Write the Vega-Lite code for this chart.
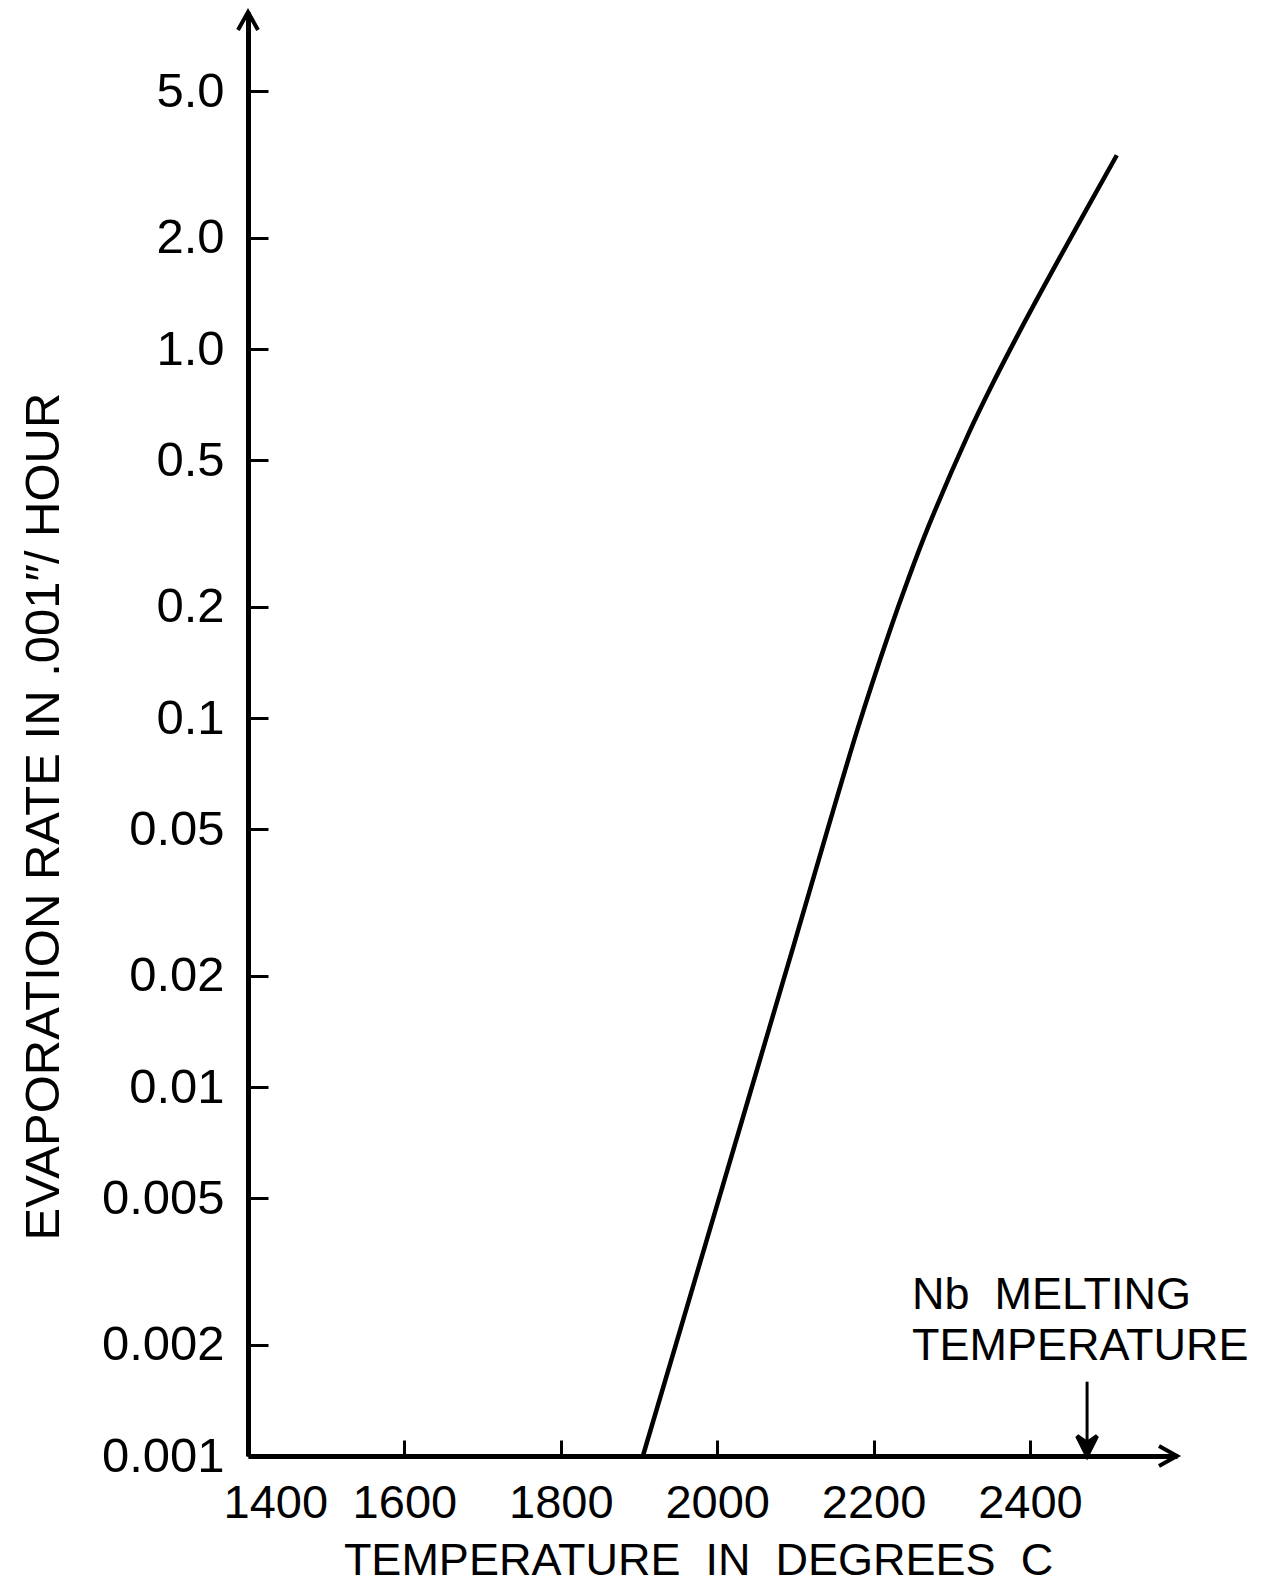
{
  "$schema": "https://vega.github.io/schema/vega-lite/v6.json",
  "width": 929,
  "height": 1444,
  "autosize": {"type": "none"},
  "padding": {"left": 248, "top": 12, "right": 93, "bottom": 129},
  "background": "white",
  "config": {"view": {"stroke": null}, "font": "Liberation Sans"},
  "datasets": {
    "curve": [
      {"T": 1905, "rate": 0.001},
      {"T": 2000, "rate": 0.0048},
      {"T": 2100, "rate": 0.0251},
      {"T": 2180, "rate": 0.094},
      {"T": 2221, "rate": 0.173},
      {"T": 2244, "rate": 0.237},
      {"T": 2270, "rate": 0.33},
      {"T": 2321, "rate": 0.587},
      {"T": 2353, "rate": 0.811},
      {"T": 2387, "rate": 1.118},
      {"T": 2438, "rate": 1.768},
      {"T": 2511, "rate": 3.35}
    ],
    "arrows": [
      {"T": 1400, "rate": 8.19, "dir": "up"},
      {"T": 2588, "rate": 0.001, "dir": "right"},
      {"T": 2473, "rate": 0.001, "dir": "down"}
    ],
    "melt": [
      {"T": 2473, "rate": 0.00159, "rate2": 0.001}
    ],
    "notes": [
      {"T": 2249, "rate": 0.0025, "label": "Nb\u00a0 MELTING"},
      {"T": 2249, "rate": 0.00182, "label": "TEMPERATURE"}
    ]
  },
  "layer": [
    {
      "data": {"name": "curve"},
      "mark": {"type": "line", "color": "black", "strokeWidth": 4.5, "interpolate": "catmull-rom"},
      "encoding": {
        "x": {
          "field": "T", "type": "quantitative",
          "scale": {"domain": [1400, 2588], "nice": false, "zero": false},
          "axis": {
            "title": "TEMPERATURE\u00a0 IN\u00a0 DEGREES\u00a0 C",
            "values": [1400, 1600, 1800, 2000, 2200, 2400],
            "format": "d",
            "grid": false,
            "labelFont": "Liberation Sans", "labelFontSize": 47, "labelColor": "black",
            "labelPadding": 40, "labelFlush": true, "labelFlushOffset": 25, "labelOverlap": false,
            "tickSize": -16, "tickWidth": 3, "tickColor": "black",
            "domainWidth": 5, "domainColor": "black",
            "titleFont": "Liberation Sans", "titleFontSize": 45, "titleFontWeight": "normal", "titleColor": "black",
            "titleX": 450, "titleY": 127, "titleAlign": "center", "titleBaseline": "bottom"
          }
        },
        "y": {
          "field": "rate", "type": "quantitative",
          "scale": {"type": "log", "domain": [0.001, 8.19], "nice": false},
          "axis": {
            "title": "EVAPORATION RATE IN .001\u2033/ HOUR",
            "values": [0.001, 0.002, 0.005, 0.01, 0.02, 0.05, 0.1, 0.2, 0.5, 1, 2, 5],
            "labelExpr": "datum.value >= 1 ? format(datum.value, '.1f') : '' + datum.value",
            "grid": false,
            "labelFont": "Liberation Sans", "labelFontSize": 49, "labelColor": "black",
            "labelPadding": 44, "labelFlush": false, "labelOverlap": false,
            "tickSize": -20, "tickWidth": 3, "tickColor": "black",
            "domainWidth": 5, "domainColor": "black",
            "titleFont": "Liberation Sans", "titleFontSize": 49, "titleFontWeight": "normal", "titleColor": "black",
            "titleAngle": 270, "titleX": -190, "titleY": 804, "titleAlign": "center", "titleBaseline": "alphabetic"
          }
        }
      }
    },
    {
      "data": {"name": "melt"},
      "mark": {"type": "rule", "color": "black", "strokeWidth": 3},
      "encoding": {
        "x": {"field": "T", "type": "quantitative"},
        "y": {"field": "rate", "type": "quantitative"},
        "y2": {"field": "rate2"}
      }
    },
    {
      "data": {"name": "arrows"},
      "mark": {"type": "point", "filled": false, "stroke": "black", "strokeWidth": 4, "size": 400, "opacity": 1, "strokeJoin": "miter"},
      "encoding": {
        "x": {"field": "T", "type": "quantitative"},
        "y": {"field": "rate", "type": "quantitative"},
        "shape": {
          "field": "dir", "type": "nominal", "legend": null,
          "scale": {
            "domain": ["up", "right", "down"],
            "range": ["M-1,1.8L0,0L1,1.8", "M-1.8,-1L0,0L-1.8,1", "M-1,-2L0,0L1,-2L0,-1.3Z"]
          }
        },
        "fill": {
          "field": "dir", "type": "nominal", "legend": null,
          "scale": {"domain": ["up", "right", "down"], "range": ["transparent", "transparent", "black"]}
        }
      }
    },
    {
      "data": {"name": "notes"},
      "mark": {"type": "text", "align": "left", "baseline": "alphabetic", "font": "Liberation Sans", "fontSize": 45, "color": "black"},
      "encoding": {
        "x": {"field": "T", "type": "quantitative"},
        "y": {"field": "rate", "type": "quantitative"},
        "text": {"field": "label"}
      }
    }
  ]
}
